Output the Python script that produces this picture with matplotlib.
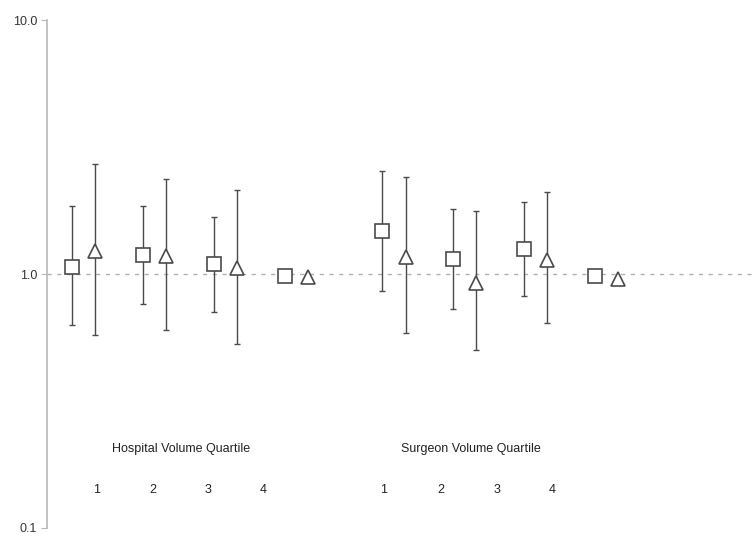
import matplotlib
matplotlib.use("Agg")
import matplotlib.pyplot as plt
import numpy as np

plt.rcParams['font.family'] = ['Liberation Sans', 'DejaVu Sans']

# quartile groups: hospital then surgeon
groups = ["Hospital", "Surgeon"]
quartiles = ["1", "2", "3", "4"]

# square markers (first estimate)
hosp_sq = [1.07, 1.19, 1.09, 0.98]
hosp_sq_lo = [0.63, 0.76, 0.71, None]
hosp_sq_hi = [1.85, 1.85, 1.68, None]
# triangle markers (second estimate)
hosp_tri = [1.23, 1.18, 1.06, 0.97]
hosp_tri_lo = [0.575, 0.60, 0.53, None]
hosp_tri_hi = [2.70, 2.37, 2.15, None]

surg_sq = [1.48, 1.15, 1.25, 0.98]
surg_sq_lo = [0.86, 0.73, 0.82, None]
surg_sq_hi = [2.54, 1.81, 1.92, None]
surg_tri = [1.17, 0.92, 1.135, 0.96]
surg_tri_lo = [0.584, 0.50, 0.64, None]
surg_tri_hi = [2.42, 1.77, 2.10, None]

fig = plt.figure(figsize=(7.54, 5.38), dpi=100)
ax = fig.add_axes([0.0623, 0.0186, 0.935, 0.9442])

grey = "#4a4a4a"

def draw(xs, vals, lo, hi, marker, ms):
    for x, v, l, h in zip(xs, vals, lo, hi):
        if l is not None:
            ax.errorbar([x], [v], yerr=[[v - l], [h - v]], fmt="none",
                        ecolor=grey, elinewidth=1.0, capsize=2.5, capthick=1.0, zorder=2)
        ax.plot([x], [v], marker=marker, ms=ms, mfc="white", mec=grey, mew=1.2,
                linestyle="none", zorder=3)

hosp_x = np.arange(1, 5)
surg_x = hosp_x + 4.37
off = 0.33

ax.axhline(1.0, color="#b0b0b0", lw=1.0, ls=(0, (3, 4)), zorder=1)

draw(hosp_x, hosp_sq, hosp_sq_lo, hosp_sq_hi, "s", 10)
draw(hosp_x + off, hosp_tri, hosp_tri_lo, hosp_tri_hi, "^", 10)
draw(surg_x, surg_sq, surg_sq_lo, surg_sq_hi, "s", 10)
draw(surg_x + off, surg_tri, surg_tri_lo, surg_tri_hi, "^", 10)

ax.set_yscale("log")
ax.set_ylim(0.1, 10)
ax.set_xlim(0.65, 10.58)
ax.set_yticks([0.1, 1.0, 10.0])
ax.set_yticklabels(["0.1", "1.0", "10.0"])
ax.yaxis.set_minor_locator(matplotlib.ticker.NullLocator())
ax.set_xticks([])
for s in ["top", "right", "bottom"]:
    ax.spines[s].set_visible(False)
ax.spines["left"].set_color("#b8b8b8")
ax.spines["left"].set_linewidth(1.2)
ax.tick_params(axis="y", length=4, color="#b8b8b8", labelsize=9, labelcolor="#333333", pad=3)

# group labels and quartile numbers
fs = 9
ax.text(2.54, 0.205, "Hospital Volume Quartile", ha="center", va="center", fontsize=fs, color="#222222")
ax.text(6.62, 0.205, "Surgeon Volume Quartile", ha="center", va="center", fontsize=fs, color="#222222")
hosp_lab_x = [1.35, 2.14, 2.92, 3.70]
surg_lab_x = [5.39, 6.20, 6.99, 7.77]
for x, q in zip(hosp_lab_x, quartiles):
    ax.text(x, 0.141, q, ha="center", va="center", fontsize=fs, color="#222222")
for x, q in zip(surg_lab_x, quartiles):
    ax.text(x, 0.141, q, ha="center", va="center", fontsize=fs, color="#222222")

fig.savefig("out.png", dpi=100)
